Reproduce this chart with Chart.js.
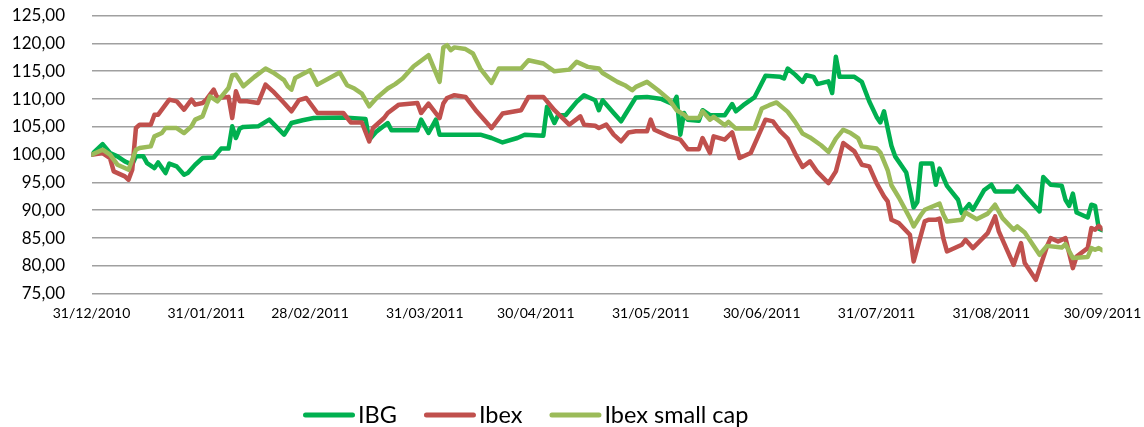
<!DOCTYPE html>
<html><head><meta charset="utf-8">
<script src="https://cdn.jsdelivr.net/npm/chart.js@4/dist/chart.umd.min.js"></script>
<style>html,body{margin:0;padding:0;background:#fff;}canvas{display:block;}</style>
</head><body>
<canvas id="c" width="1144" height="427"></canvas>
<script>
const seriesNames = ['IBG', 'Ibex', 'Ibex small cap'];
const seriesColors = ['#00B050', '#C0504D', '#9BBB59'];
const xTickLabels = ['31/12/2010','31/01/2011','28/02/2011','31/03/2011','30/04/2011','31/05/2011','30/06/2011','31/07/2011','31/08/2011','30/09/2011'];
const yTickValues = [75, 80, 85, 90, 95, 100, 105, 110, 115, 120, 125];

const ibgDates = ['2010-12-31','2011-01-03','2011-01-05','2011-01-07','2011-01-09','2011-01-11','2011-01-12','2011-01-14','2011-01-15','2011-01-17','2011-01-18','2011-01-20','2011-01-21','2011-01-23','2011-01-25','2011-01-26','2011-01-28','2011-01-30','2011-02-02','2011-02-04','2011-02-06','2011-02-07','2011-02-08','2011-02-09','2011-02-10','2011-02-14','2011-02-17','2011-02-21','2011-02-23','2011-02-26','2011-03-01','2011-03-09','2011-03-15','2011-03-16','2011-03-18','2011-03-21','2011-03-22','2011-03-29','2011-03-30','2011-04-01','2011-04-03','2011-04-04','2011-04-15','2011-04-18','2011-04-21','2011-04-25','2011-04-27','2011-05-02','2011-05-03','2011-05-05','2011-05-06','2011-05-08','2011-05-11','2011-05-13','2011-05-16','2011-05-17','2011-05-18','2011-05-21','2011-05-23','2011-05-24','2011-05-27','2011-05-30','2011-06-03','2011-06-06','2011-06-07','2011-06-08','2011-06-09','2011-06-10','2011-06-13','2011-06-14','2011-06-16','2011-06-20','2011-06-22','2011-06-23','2011-06-25','2011-06-28','2011-07-01','2011-07-05','2011-07-06','2011-07-07','2011-07-09','2011-07-11','2011-07-12','2011-07-14','2011-07-15','2011-07-18','2011-07-19','2011-07-20','2011-07-21','2011-07-25','2011-07-27','2011-07-29','2011-07-31','2011-08-01','2011-08-02','2011-08-04','2011-08-05','2011-08-08','2011-08-10','2011-08-11','2011-08-12','2011-08-15','2011-08-16','2011-08-17','2011-08-19','2011-08-22','2011-08-23','2011-08-25','2011-08-26','2011-08-29','2011-08-31','2011-09-01','2011-09-06','2011-09-07','2011-09-09','2011-09-10','2011-09-13','2011-09-14','2011-09-16','2011-09-19','2011-09-20','2011-09-21','2011-09-22','2011-09-23','2011-09-26','2011-09-27','2011-09-28','2011-09-29','2011-09-30'];
const ibgValues = [100,101.9,100.3,99.7,98.8,98.2,99.7,99.7,98.5,97.6,98.6,96.7,98.4,97.9,96.4,96.7,98.2,99.4,99.5,101.1,101.1,105.1,103.0,104.7,105.0,105.1,106.3,103.6,105.7,106.2,106.6,106.7,106.4,102.7,104.2,105.7,104.4,104.4,106.3,103.9,106.3,103.6,103.6,103.0,102.2,103.0,103.6,103.4,108.6,105.7,107.1,107.1,109.5,110.7,109.8,108.0,109.8,107.5,106.0,107.1,110.3,110.4,110.0,109.1,110.4,103.6,107.5,106.3,106.1,108.0,107.1,107.1,109.1,107.8,108.9,110.3,114.2,114.0,113.7,115.5,114.4,113.1,114.3,114.0,112.7,113.2,111.1,117.6,114.0,114.0,113.1,109.6,106.8,105.8,107.8,101.6,99.7,96.8,90.5,91.5,98.4,98.4,94.6,97.5,94.4,91.9,89.5,91.1,90.1,93.6,94.6,93.4,93.4,94.3,92.7,92.0,89.8,96.0,94.6,94.4,91.9,90.8,93.0,89.6,88.7,91.0,90.8,86.7,86.4];

const ibexDates = ['2010-12-31','2011-01-03','2011-01-05','2011-01-06','2011-01-09','2011-01-10','2011-01-11','2011-01-12','2011-01-13','2011-01-16','2011-01-17','2011-01-18','2011-01-19','2011-01-21','2011-01-23','2011-01-25','2011-01-27','2011-01-28','2011-01-30','2011-01-31','2011-02-02','2011-02-03','2011-02-06','2011-02-07','2011-02-08','2011-02-09','2011-02-11','2011-02-14','2011-02-16','2011-02-18','2011-02-21','2011-02-23','2011-02-25','2011-02-27','2011-03-02','2011-03-09','2011-03-11','2011-03-14','2011-03-16','2011-03-17','2011-03-20','2011-03-21','2011-03-24','2011-03-29','2011-03-30','2011-04-01','2011-04-04','2011-04-05','2011-04-06','2011-04-08','2011-04-11','2011-04-14','2011-04-18','2011-04-21','2011-04-26','2011-04-28','2011-05-02','2011-05-05','2011-05-09','2011-05-12','2011-05-13','2011-05-16','2011-05-17','2011-05-19','2011-05-21','2011-05-23','2011-05-25','2011-05-27','2011-05-30','2011-05-31','2011-06-01','2011-06-05','2011-06-08','2011-06-10','2011-06-13','2011-06-14','2011-06-16','2011-06-17','2011-06-20','2011-06-22','2011-06-24','2011-06-27','2011-07-01','2011-07-03','2011-07-05','2011-07-07','2011-07-09','2011-07-11','2011-07-13','2011-07-15','2011-07-18','2011-07-20','2011-07-22','2011-07-25','2011-07-27','2011-07-29','2011-07-31','2011-08-02','2011-08-03','2011-08-04','2011-08-06','2011-08-09','2011-08-10','2011-08-13','2011-08-14','2011-08-16','2011-08-17','2011-08-18','2011-08-19','2011-08-23','2011-08-24','2011-08-26','2011-08-30','2011-09-01','2011-09-02','2011-09-04','2011-09-06','2011-09-08','2011-09-09','2011-09-12','2011-09-15','2011-09-16','2011-09-18','2011-09-20','2011-09-22','2011-09-23','2011-09-26','2011-09-27','2011-09-28','2011-09-29','2011-09-30'];
const ibexValues = [100,100.3,99.4,97.0,96.1,95.5,97.3,104.8,105.4,105.4,107.2,107.2,108.1,109.9,109.6,108.1,109.9,109.0,109.3,109.9,111.7,110.2,110.4,106.6,111.4,109.6,109.6,109.3,112.6,111.4,109.3,107.8,109.8,110.2,107.5,107.5,105.8,105.8,102.4,104.8,106.6,107.5,109.0,109.3,107.5,109.2,106.6,109.2,110.2,110.7,110.4,107.8,104.8,107.4,108.0,110.4,110.4,108.0,105.4,106.9,105.4,105.2,104.8,105.4,103.6,102.4,104.0,104.2,104.2,106.3,104.5,103.3,102.7,101.0,101.0,103.0,100.3,103.3,102.7,104.0,99.4,100.3,106.3,106.0,104.2,102.9,100.2,97.8,98.8,96.9,94.9,97.0,102.1,100.6,98.2,97.9,94.9,92.5,91.6,88.3,87.7,85.6,80.8,88.0,88.3,88.3,88.5,85.0,82.6,83.8,84.7,83.2,85.9,88.9,86.2,83.2,80.2,84.1,80.5,77.5,83.5,85.0,84.4,85.0,79.6,81.7,83.2,86.8,86.5,87.2,86.6];

const smallCapDates = ['2010-12-31','2011-01-03','2011-01-05','2011-01-07','2011-01-09','2011-01-10','2011-01-12','2011-01-13','2011-01-16','2011-01-17','2011-01-19','2011-01-20','2011-01-23','2011-01-25','2011-01-27','2011-01-28','2011-01-30','2011-02-01','2011-02-03','2011-02-06','2011-02-07','2011-02-08','2011-02-10','2011-02-13','2011-02-16','2011-02-18','2011-02-21','2011-02-22','2011-02-23','2011-02-24','2011-02-28','2011-03-02','2011-03-08','2011-03-10','2011-03-12','2011-03-14','2011-03-16','2011-03-18','2011-03-21','2011-03-23','2011-03-25','2011-03-28','2011-04-01','2011-04-04','2011-04-05','2011-04-06','2011-04-07','2011-04-08','2011-04-11','2011-04-13','2011-04-15','2011-04-18','2011-04-20','2011-04-26','2011-04-28','2011-05-02','2011-05-05','2011-05-09','2011-05-11','2011-05-14','2011-05-17','2011-05-18','2011-05-22','2011-05-24','2011-05-26','2011-05-27','2011-05-30','2011-06-02','2011-06-05','2011-06-07','2011-06-09','2011-06-10','2011-06-13','2011-06-14','2011-06-16','2011-06-17','2011-06-20','2011-06-21','2011-06-23','2011-06-28','2011-06-30','2011-07-02','2011-07-04','2011-07-07','2011-07-09','2011-07-11','2011-07-13','2011-07-16','2011-07-18','2011-07-20','2011-07-22','2011-07-24','2011-07-26','2011-07-27','2011-07-31','2011-08-01','2011-08-03','2011-08-04','2011-08-06','2011-08-09','2011-08-10','2011-08-12','2011-08-13','2011-08-17','2011-08-18','2011-08-19','2011-08-23','2011-08-24','2011-08-27','2011-08-30','2011-09-01','2011-09-03','2011-09-06','2011-09-07','2011-09-09','2011-09-13','2011-09-15','2011-09-19','2011-09-20','2011-09-22','2011-09-26','2011-09-27','2011-09-28','2011-09-29','2011-09-30'];
const smallCapValues = [100,100.9,100.0,98.2,97.6,97.3,100.9,101.2,101.5,103.3,103.9,104.8,104.8,103.9,105.1,106.3,106.9,110.5,109.6,112.0,114.3,114.4,112.3,114.0,115.5,114.8,113.4,112.3,111.7,113.8,115.2,112.6,114.8,112.5,111.9,111.0,108.7,110.2,111.9,112.7,113.7,115.9,117.9,113.1,119.3,119.7,118.8,119.3,119.0,118.2,115.5,112.9,115.5,115.5,117.0,116.4,115.0,115.3,116.7,115.8,115.5,114.7,113.1,112.5,111.6,112.2,113.1,111.6,109.9,108.0,107.2,106.6,106.6,107.8,106.3,106.8,105.3,105.9,104.7,104.7,108.3,108.9,109.4,107.7,105.9,103.8,103.1,101.7,100.5,102.9,104.5,103.9,103.0,101.5,101.1,100.4,97.2,94.5,92.3,88.6,87.1,89.2,90.1,91.2,89.3,88.0,88.3,89.6,88.4,89.4,91.0,88.6,86.5,87.1,86.0,82.0,83.6,83.3,83.9,81.4,81.6,83.2,82.9,83.2,82.8];

const DAY = 86400000;
const ORIGIN = Date.UTC(2010, 11, 31);
function isoToDay(s) { const p = s.split('-').map(Number); return Math.round((Date.UTC(p[0], p[1] - 1, p[2]) - ORIGIN) / DAY); }
function dmyToDay(s) { const p = s.split('/').map(Number); return Math.round((Date.UTC(p[2], p[1] - 1, p[0]) - ORIGIN) / DAY); }
function toPoints(dates, values) { return dates.map((d, i) => ({ x: isoToDay(d), y: values[i] })); }
const xTickDays = xTickLabels.map(dmyToDay);
const fmt = v => v.toFixed(2).replace('.', ',');

const FONT = 'Lato, "Open Sans", "Liberation Sans", sans-serif';

const legendPlugin = {
  id: 'bottomLegend',
  afterDraw(chart) {
    const ctx = chart.ctx;
    ctx.save();
    ctx.font = '23.5px ' + FONT;
    ctx.textBaseline = 'alphabetic';
    ctx.textAlign = 'left';
    let x = 303;
    const lineY = 415, baseY = 423;
    chart.data.datasets.forEach(ds => {
      ctx.strokeStyle = ds.borderColor;
      ctx.lineWidth = 5;
      ctx.lineCap = 'round';
      ctx.beginPath();
      ctx.moveTo(x + 2.5, lineY);
      ctx.lineTo(x + 52 - 2.5, lineY);
      ctx.stroke();
      x += 55;
      ctx.fillStyle = '#000';
      ctx.fillText(ds.label, x, baseY);
      x += ctx.measureText(ds.label).width + 27;
    });
    ctx.restore();
  }
};

const datasets = [
  { label: seriesNames[0], data: toPoints(ibgDates, ibgValues), borderColor: seriesColors[0], backgroundColor: seriesColors[0], order: 3 },
  { label: seriesNames[1], data: toPoints(ibexDates, ibexValues), borderColor: seriesColors[1], backgroundColor: seriesColors[1], order: 2 },
  { label: seriesNames[2], data: toPoints(smallCapDates, smallCapValues), borderColor: seriesColors[2], backgroundColor: seriesColors[2], order: 1 }
].map(d => Object.assign(d, { borderWidth: 4.5, pointRadius: 0, tension: 0, borderJoinStyle: 'round', borderCapStyle: 'round', fill: false }));

new Chart(document.getElementById('c'), {
  type: 'line',
  data: { datasets },
  options: {
    responsive: false,
    animation: false,
    devicePixelRatio: 1,
    layout: { padding: { top: 15.7, right: 41.5, left: 0, bottom: 0 } },
    plugins: { legend: { display: false }, tooltip: { enabled: false } },
    scales: {
      x: {
        type: 'linear', min: xTickDays[0], max: xTickDays[xTickDays.length - 1],
        grid: { display: false, drawTicks: false },
        border: { display: false },
        afterBuildTicks: s => { s.ticks = xTickDays.map(v => ({ value: v })); },
        afterFit: s => { s.height = 133.3; s.paddingLeft = 0; s.paddingRight = 0; },
        ticks: {
          autoSkip: false, maxRotation: 0, minRotation: 0, padding: 11,
          color: '#000', font: { family: FONT, size: 14 },
          callback: v => { const i = xTickDays.indexOf(v); return i >= 0 ? xTickLabels[i] : ''; }
        }
      },
      y: {
        min: yTickValues[0], max: yTickValues[yTickValues.length - 1],
        grid: { color: '#a0a0a0', lineWidth: 1.6, drawTicks: false },
        border: { display: false },
        afterBuildTicks: s => { s.ticks = yTickValues.map(v => ({ value: v })); },
        afterFit: s => { s.width = 91.5; s.paddingTop = 0; s.paddingBottom = 0; },
        ticks: { padding: 26.5, color: '#000', font: { family: FONT, size: 17 }, callback: v => fmt(v) }
      }
    }
  },
  plugins: [legendPlugin]
});
</script>
</body></html>
